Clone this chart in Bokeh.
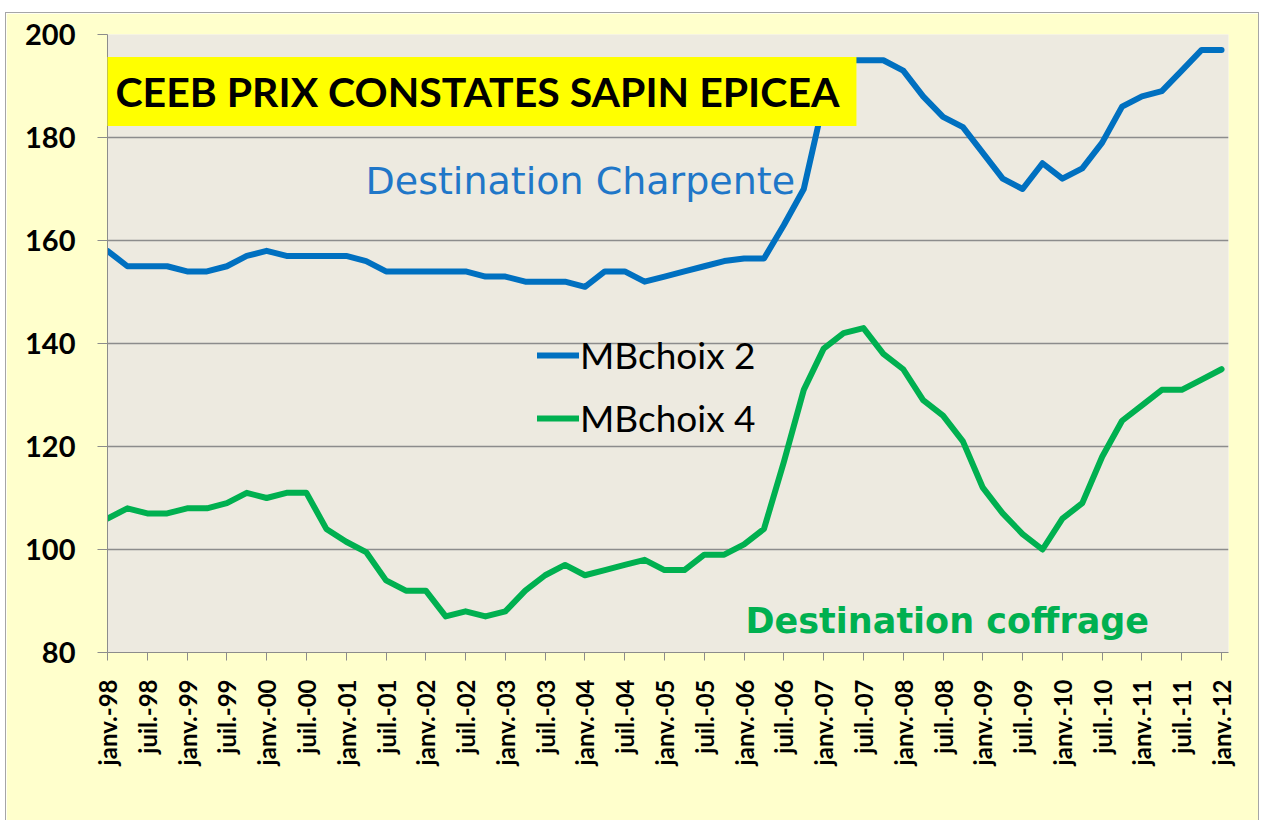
import math
from bokeh.plotting import figure
from bokeh.models import Range1d, FixedTicker, Label, Legend, LegendItem
from bokeh.embed import file_html
from bokeh.resources import INLINE

# ---- data (quarterly, janv. 1998 -> janv. 2012) ----
mbchoix2 = [158, 155, 155, 155, 154, 154, 155, 157, 158, 157,
            157, 157, 157, 156, 154, 154, 154, 154, 154, 153,
            153, 152, 152, 152, 151, 154, 154, 152, 153, 154,
            155, 156, 156.5, 156.5, 163, 170, 187, 195, 195, 195,
            193, 188, 184, 182, 177, 172, 170, 175, 172, 174,
            179, 186, 188, 189, 193, 197, 197]
mbchoix4 = [106, 108, 107, 107, 108, 108, 109, 111, 110, 111,
            111, 104, 101.5, 99.5, 94, 92, 92, 87, 88, 87,
            88, 92, 95, 97, 95, 96, 97, 98, 96, 96,
            99, 99, 101, 104, 117, 131, 139, 142, 143, 138,
            135, 129, 126, 121, 112, 107, 103, 100, 106, 109,
            118, 125, 128, 131, 131, 133, 135]
tick_labels = ["janv.-98", "juil.-98", "janv.-99", "juil.-99", "janv.-00", "juil.-00",
               "janv.-01", "juil.-01", "janv.-02", "juil.-02", "janv.-03", "juil.-03",
               "janv.-04", "juil.-04", "janv.-05", "juil.-05", "janv.-06", "juil.-06",
               "janv.-07", "juil.-07", "janv.-08", "juil.-08", "janv.-09", "juil.-09",
               "janv.-10", "juil.-10", "janv.-11", "juil.-11", "janv.-12"]
y_ticks = [80, 100, 120, 140, 160, 180, 200]
series_names = ["MBchoix 2", "MBchoix 4"]
title_text = "CEEB PRIX CONSTATES SAPIN EPICEA"
note_charpente = "Destination Charpente"
note_coffrage = "Destination coffrage"

quarters = list(range(len(mbchoix2)))
tick_pos = [2 * i for i in range(len(tick_labels))]

BLUE = "#0070C0"
GREEN = "#00B050"
GRID = "#8C8C8C"

p = figure(width=1254, height=808, output_backend="svg", toolbar_location=None,
           x_range=Range1d(0, 56.35), y_range=Range1d(80, 200),
           min_border_left=101, min_border_right=32, min_border_top=21,
           min_border_bottom=169)
p.styles = {"border": "1px solid #A6A6A6", "border-bottom-width": "0px",
            "position": "relative", "top": "12px", "left": "5px"}
p.background_fill_color = "#EDEAE0"
p.border_fill_color = "#FFFFCC"
p.outline_line_color = None

r1 = p.line(quarters, mbchoix2, line_width=6, line_color=BLUE,
            line_join="round", line_cap="round")
r2 = p.line(quarters, mbchoix4, line_width=6, line_color=GREEN,
            line_join="round", line_cap="round")

# axes
p.xaxis.ticker = FixedTicker(ticks=tick_pos)
p.xaxis.major_label_overrides = {tp: lab for tp, lab in zip(tick_pos, tick_labels)}
p.xaxis.major_label_orientation = math.pi / 2
p.xaxis.major_label_text_font = "Lato"
p.xaxis.major_label_text_font_style = "bold"
p.xaxis.major_label_text_font_size = "24px"
p.xaxis.major_label_text_color = "black"
p.xaxis.major_label_standoff = 19
p.xaxis.minor_tick_line_color = None
p.xaxis.major_tick_in = 0
p.xaxis.major_tick_out = 8
p.xaxis.major_tick_line_color = GRID
p.xaxis.axis_line_color = GRID

p.yaxis.ticker = FixedTicker(ticks=y_ticks)
p.yaxis.major_label_text_font = "Lato"
p.yaxis.major_label_text_font_style = "bold"
p.yaxis.major_label_text_font_size = "29px"
p.yaxis.major_label_text_color = "black"
p.yaxis.major_label_standoff = 22
p.yaxis.minor_tick_line_color = None
p.yaxis.major_tick_in = 0
p.yaxis.major_tick_out = 10
p.yaxis.major_tick_line_color = GRID
p.yaxis.axis_line_color = GRID

p.xgrid.grid_line_color = None
p.ygrid.grid_line_color = GRID
p.ygrid.grid_line_width = 1.5

# legend
legend = Legend(items=[LegendItem(label=series_names[0], renderers=[r1]),
                       LegendItem(label=series_names[1], renderers=[r2])],
                location=(430, 212), orientation="vertical")
legend.background_fill_alpha = 0
legend.border_line_color = None
legend.padding = 0
legend.margin = 0
legend.spacing = 18
legend.glyph_width = 42
legend.glyph_height = 40
legend.label_height = 40
legend.label_standoff = 1
legend.label_text_font = "Lato"
legend.label_text_font_size = "37px"
legend.label_text_color = "black"
p.add_layout(legend)

# title box
title = Label(x=-10, y=561, x_units="screen", y_units="screen", text=title_text,
              text_font="Lato", text_font_style="bold", text_font_size="41px",
              text_color="black", text_baseline="middle", text_align="left",
              background_fill_color="#FFFF00",
              padding=dict(left=18, right=17, top=10, bottom=10))
p.add_layout(title)

lab1 = Label(x=258, y=472, x_units="screen", y_units="screen", text=note_charpente,
             text_font="DejaVu Sans", text_font_size="38px", text_color="#1F77C8",
             text_baseline="middle", text_align="left")
lab2 = Label(x=638, y=32, x_units="screen", y_units="screen", text=note_coffrage,
             text_font="DejaVu Sans", text_font_style="bold", text_font_size="35px",
             text_color=GREEN, text_baseline="middle", text_align="left")
p.add_layout(lab1)
p.add_layout(lab2)

open("out.html", "w").write(file_html(p, INLINE))
